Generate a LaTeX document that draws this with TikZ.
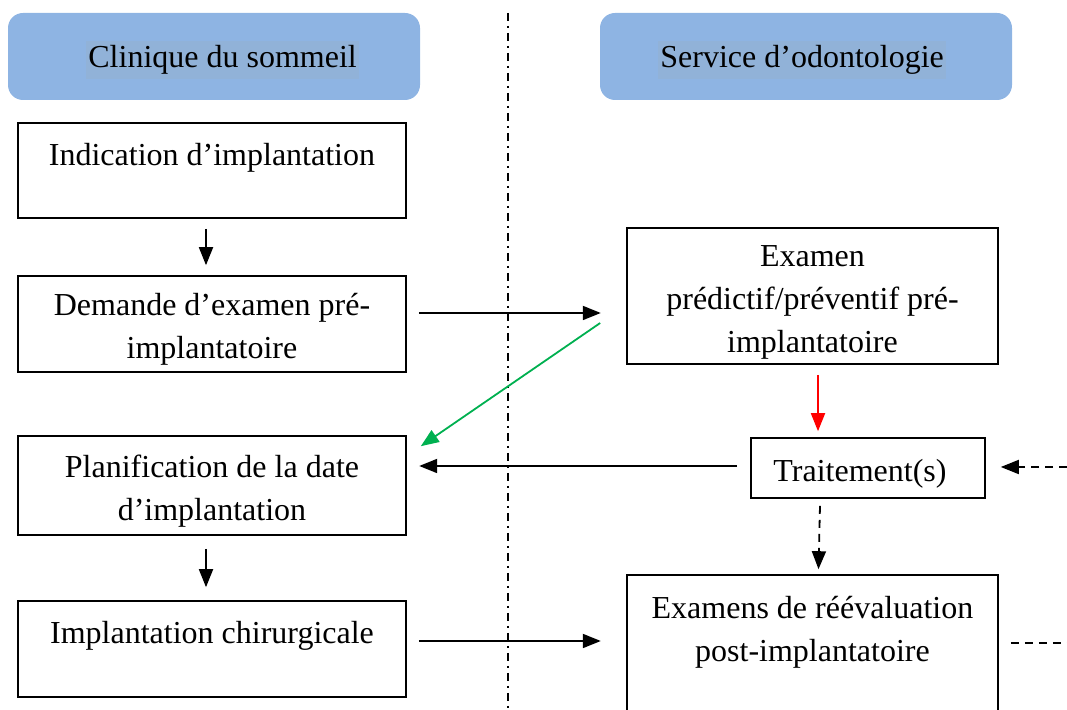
\documentclass[tikz,border=0pt]{standalone}
\usepackage{fontspec}
\setmainfont{Liberation Serif}
\usetikzlibrary{arrows.meta,calc,positioning}
\definecolor{headblue}{RGB}{142,180,227}
\definecolor{headtext}{RGB}{145,178,216}
\definecolor{linkgreen}{RGB}{0,176,80}
\newcommand{\topgap}{\rule{0pt}{16.5pt}}

\begin{document}
\begin{tikzpicture}[x=0.5pt, y=-0.5pt,
        every node/.style={font=\fontsize{16}{21.5}\selectfont},
        header/.style={fill=headblue, rounded corners=7.5pt, minimum width=206pt, minimum height=43.5pt},
        headtxt/.style={fill=headtext, inner xsep=1pt, inner ysep=2pt, anchor=west},
        stepbox/.style={draw, line width=0.8pt, align=center, inner sep=0pt},
        arr/.style={line width=0.9pt, -{Triangle[length=9pt, width=7pt]}},
        dasharr/.style={arr, dash pattern=on 4pt off 3pt},
        dashline/.style={line width=0.9pt, dash pattern=on 4pt off 3pt},
    ]
        \clip (0,0) rectangle (1067,710);

        \node[header] (clin) at (214,56.5) {};
        \node[headtxt] (clintxt) at (86,60) {Clinique du sommeil\hspace{8pt}};
        \node[header] (odonto) at (806,56.5) {};
        \node[headtxt] (odontotxt) at (658,60) {Service d’odontologie\hspace{12pt}};

        \coordinate (septop) at (508,13);
        \coordinate (sepbot) at (508,712);
        \draw[line width=0.7pt, dash pattern=on 4pt off 2.5pt on 1pt off 2.5pt] (septop) -- (sepbot); % dash dot separator

        \node[stepbox, minimum width=194pt, minimum height=47.5pt] (indic) at (212,170.5) {\topgap Indication d’implantation\\~};
        \node[stepbox, minimum width=194pt, minimum height=48pt] (demande) at (212,324) {\topgap Demande d’examen pré-\\implantatoire};
        \node[stepbox, minimum width=185.5pt, minimum height=68pt] (examen) at (812.5,296) {\topgap Examen\\prédictif/préventif pré-\\implantatoire};
        \node[stepbox, minimum width=194pt, minimum height=49.5pt] (planif) at (212,485.5) {\topgap Planification de la date\\d’implantation};
        \node[stepbox, minimum width=117pt, minimum height=30pt] (traite) at (868,468) {\topgap Traitement(s)\hspace{8pt}};
        \node[stepbox, minimum width=194pt, minimum height=48pt] (chir) at (212,649) {\topgap Implantation chirurgicale\\~};
        \node[stepbox, minimum width=185.5pt, minimum height=70pt] (reeval) at (812.5,645) {\topgap Examens de réévaluation\\post-implantatoire\\~};

        \coordinate (retin) at (1067,467);
        \coordinate (retout) at (1067,643);

        \draw[arr] ([shift={(-6,10)}]indic.south) -- ([shift={(-6,-10)}]demande.north);
        \draw[arr] ([shift={(12,-11)}]demande.east) -- ++(182,0);
        \draw[arr, red] ([shift={(5.5,10)}]examen.south) -- ([shift={(-50,-6)}]traite.north);
        \draw[arr, linkgreen] ([shift={(-26,27)}]examen.west) -- ([shift={(14,11)}]planif.north east);
        \draw[arr] ([shift={(-13,-2)}]traite.west) -- ++(-318,0);
        \draw[dasharr] (retin) -- ([shift={(15,-1)}]traite.east);
        \draw[dasharr] ([shift={(-48,7)}]traite.south) -- ([shift={(6,-5)}]reeval.north);
        \draw[arr] ([shift={(-6,13)}]planif.south) -- ([shift={(-6,-13)}]chir.north);
        \draw[arr] ([shift={(12,-8)}]chir.east) -- ++(182,0);
        \draw[dashline] ([shift={(12,-2)}]reeval.east) -- (retout);
    \end{tikzpicture}
\end{document}
